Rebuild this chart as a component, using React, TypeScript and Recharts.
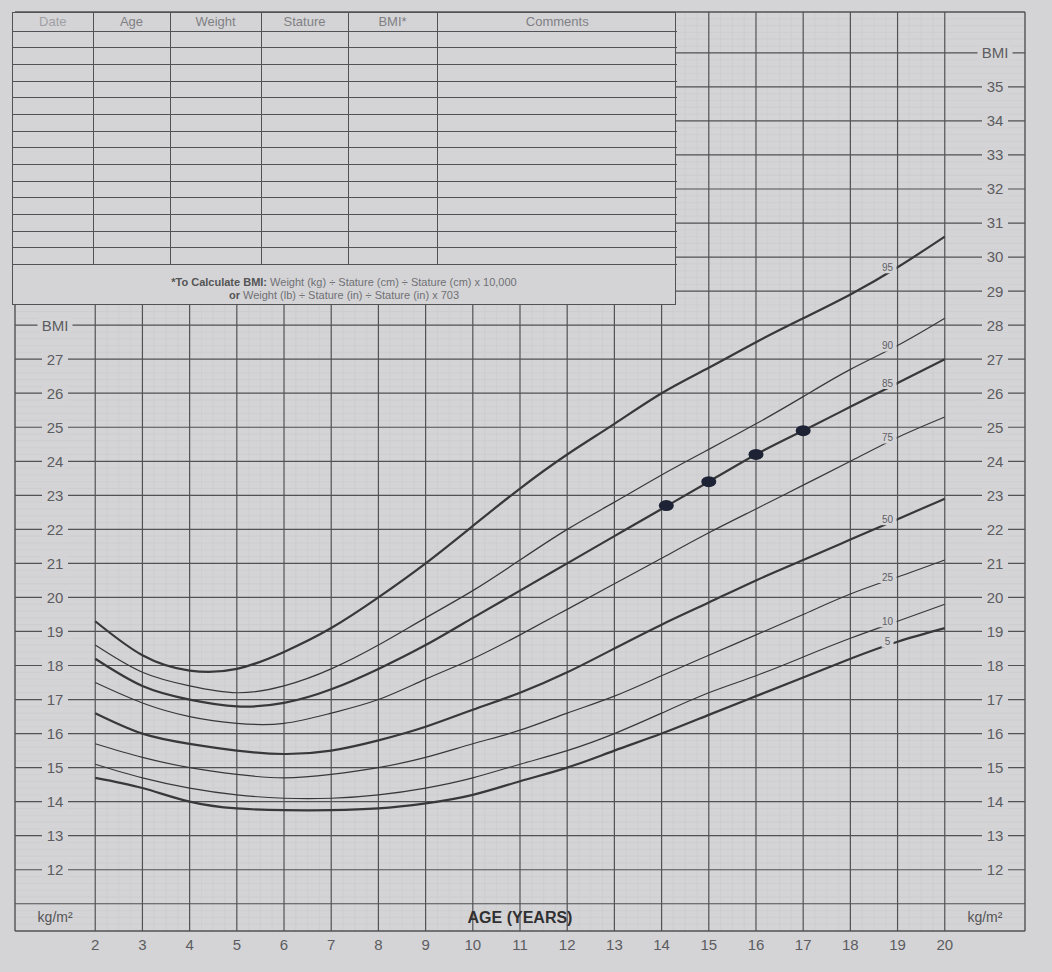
import React from "react"
import {
  ComposedChart,
  Line,
  Scatter,
  XAxis,
  YAxis,
  ReferenceLine,
  ReferenceArea
} from "recharts"

// CDC BMI-for-age percentile curves (boys)
const ages = [2, 3, 4, 5, 6, 7, 8, 9, 10, 11, 12, 13, 14, 15, 16, 17, 18, 19, 20]
const p5 = [14.7, 14.4, 14.0, 13.8, 13.75, 13.75, 13.8, 13.95, 14.2, 14.6, 15.0, 15.5, 16.0, 16.55, 17.1, 17.65, 18.2, 18.7, 19.1]
const p10 = [15.1, 14.7, 14.4, 14.2, 14.1, 14.1, 14.2, 14.4, 14.7, 15.1, 15.5, 16.0, 16.6, 17.2, 17.7, 18.25, 18.8, 19.3, 19.8]
const p25 = [15.7, 15.3, 15.0, 14.8, 14.7, 14.8, 15.0, 15.3, 15.7, 16.1, 16.6, 17.1, 17.7, 18.3, 18.9, 19.5, 20.1, 20.6, 21.1]
const p50 = [16.6, 16.0, 15.7, 15.5, 15.4, 15.5, 15.8, 16.2, 16.7, 17.2, 17.8, 18.5, 19.2, 19.85, 20.5, 21.1, 21.7, 22.3, 22.9]
const p75 = [17.5, 16.9, 16.5, 16.3, 16.3, 16.6, 17.0, 17.6, 18.2, 18.9, 19.65, 20.4, 21.15, 21.9, 22.6, 23.3, 24.0, 24.7, 25.3]
const p85 = [18.2, 17.4, 17.0, 16.8, 16.9, 17.3, 17.9, 18.6, 19.4, 20.2, 21.0, 21.8, 22.6, 23.4, 24.2, 24.9, 25.6, 26.3, 27.0]
const p90 = [18.6, 17.8, 17.4, 17.2, 17.4, 17.9, 18.6, 19.4, 20.2, 21.1, 22.0, 22.8, 23.6, 24.35, 25.1, 25.9, 26.7, 27.4, 28.2]
const p95 = [19.3, 18.3, 17.85, 17.9, 18.4, 19.1, 20.0, 21.0, 22.1, 23.2, 24.2, 25.1, 26.0, 26.75, 27.5, 28.2, 28.9, 29.7, 30.6]

// plotted measurements
const visitAges = [14.1, 15.0, 16.0, 17.0]
const visitBmi = [22.7, 23.4, 24.2, 24.9]

const ageTicks = [2, 3, 4, 5, 6, 7, 8, 9, 10, 11, 12, 13, 14, 15, 16, 17, 18, 19, 20]
const bmiLines = [11, 12, 13, 14, 15, 16, 17, 18, 19, 20, 21, 22, 23, 24, 25, 26, 27, 28, 29, 30, 31, 32, 33, 34, 35, 36]
const leftBmiTicks = [12, 13, 14, 15, 16, 17, 18, 19, 20, 21, 22, 23, 24, 25, 26, 27]
const rightBmiTicks = [12, 13, 14, 15, 16, 17, 18, 19, 20, 21, 22, 23, 24, 25, 26, 27, 28, 29, 30, 31, 32, 33, 34, 35]

const tableHeaders = ["Date", "Age", "Weight", "Stature", "BMI*", "Comments"]
const tableColWidths = [80, 77, 91, 87, 89, 240]
const tableRows = 14

const series = [
  { key: "p95", label: "95", values: p95, thick: true },
  { key: "p90", label: "90", values: p90, thick: false },
  { key: "p85", label: "85", values: p85, thick: true },
  { key: "p75", label: "75", values: p75, thick: false },
  { key: "p50", label: "50", values: p50, thick: true },
  { key: "p25", label: "25", values: p25, thick: false },
  { key: "p10", label: "10", values: p10, thick: false },
  { key: "p5", label: "5", values: p5, thick: true }
]

const data = ages.map((age, i) => {
  const row: Record<string, number> = { age }
  series.forEach((s) => (row[s.key] = s.values[i]))
  return row
})
const visits = visitAges.map((age, i) => ({ age, bmi: visitBmi[i] }))

const PAPER = "#d4d4d7"
const INK = "#38383a"
const GRID = "#525256"
const MINOR = "#cbcbce"
const FONT = "'Liberation Sans', Arial, sans-serif"

const minorBmi: number[] = []
for (let v = 10.4; v < 37; v += 0.2) minorBmi.push(Math.round(v * 10) / 10)
const minorAge: number[] = []
for (let a = 2.25; a < 20; a += 0.25) if (a % 1 !== 0) minorAge.push(a)

const labelIndex = ages.indexOf(19)

function gapLabel(cx: number, cy: number, text: string, size = 15) {
  const w = text.length * size * 0.6 + 8
  return (
    <g>
      <rect x={cx - w / 2} y={cy - 7} width={w} height={14} fill={PAPER} />
      <text x={cx} y={cy} dy="0.36em" textAnchor="middle" fontSize={size} fill="#5c5c60" fontFamily={FONT}>
        {text}
      </text>
    </g>
  )
}

function bmiRowLabel(v: number) {
  const left = leftBmiTicks.includes(v) ? String(v) : v === 28 ? "BMI" : null
  const right = rightBmiTicks.includes(v) ? String(v) : v === 36 ? "BMI" : null
  return (props: any) => {
    const vb = props.viewBox
    return (
      <g>
        {left && gapLabel(vb.x + 40, vb.y, left)}
        {right && gapLabel(vb.x + vb.width - 30, vb.y, right)}
      </g>
    )
  }
}

function pctLabel(text: string) {
  return (props: any) => {
    const { x, y, index } = props
    if (index !== labelIndex) return <g />
    const w = text.length * 6 + 6
    return (
      <g>
        <rect x={x - 10 - w / 2} y={y - 7} width={w} height={13} fill={PAPER} />
        <text x={x - 10} y={y} dy="0.35em" textAnchor="middle" fontSize={10} fill="#606064" fontFamily={FONT}>
          {text}
        </text>
      </g>
    )
  }
}

function RecordTable() {
  const cell = { borderRight: `1px solid ${GRID}`, borderBottom: `1px solid ${GRID}`, padding: 0 }
  return (
    <div
      style={{
        position: "absolute",
        left: 12,
        top: 12,
        width: 664,
        height: 293,
        background: PAPER,
        border: `1px solid ${GRID}`,
        boxSizing: "border-box",
        fontFamily: FONT
      }}
    >
      <table style={{ borderCollapse: "collapse", tableLayout: "fixed", width: 662 }}>
        <colgroup>
          {tableColWidths.map((w, i) => (
            <col key={i} style={{ width: w }} />
          ))}
        </colgroup>
        <tbody>
          <tr style={{ height: 18 }}>
            {tableHeaders.map((h, i) => (
              <td
                key={h}
                style={{
                  ...cell,
                  borderRight: i === tableHeaders.length - 1 ? "none" : cell.borderRight,
                  textAlign: "center",
                  fontSize: 13,
                  color: i === 0 ? "#a0a0a4" : "#808084",
                  lineHeight: "16px"
                }}
              >
                {h}
              </td>
            ))}
          </tr>
          {Array.from({ length: tableRows }).map((_, r) => (
            <tr key={r} style={{ height: 16.7 }}>
              {tableHeaders.map((h, i) => (
                <td
                  key={h}
                  style={{ ...cell, borderRight: i === tableHeaders.length - 1 ? "none" : cell.borderRight }}
                />
              ))}
            </tr>
          ))}
        </tbody>
      </table>
      <div
        style={{
          position: "absolute",
          left: 0,
          right: 0,
          top: 263,
          textAlign: "center",
          fontSize: 11,
          lineHeight: "13px",
          color: "#707074"
        }}
      >
        <div>
          <b style={{ color: "#555" }}>*To Calculate BMI:</b> Weight (kg) ÷ Stature (cm) ÷ Stature (cm) x 10,000
        </div>
        <div>
          <b style={{ color: "#555" }}>or</b> Weight (lb) ÷ Stature (in) ÷ Stature (in) x 703
        </div>
      </div>
    </div>
  )
}

export default function App() {
  return (
    <div style={{ position: "absolute", left: 0, top: 0, width: 1052, height: 972, background: PAPER, overflow: "hidden" }}>
      <ComposedChart width={1052} height={972} data={data} margin={{ top: 12, right: 27, bottom: 11, left: 15 }}>
        <XAxis
          type="number"
          dataKey="age"
          domain={[0.3, 21.7]}
          ticks={ageTicks}
          allowDataOverflow
          axisLine={false}
          tickLine={false}
          height={30}
          tick={{ fontSize: 15, fill: "#5c5c60", fontFamily: FONT }}
        />
        <YAxis type="number" domain={[10.2, 37.2]} allowDataOverflow hide />

        {minorBmi.map((v) => (
          <ReferenceLine key={"mb" + v} y={v} stroke={MINOR} strokeWidth={0.7} />
        ))}
        {minorAge.map((a) => (
          <ReferenceLine key={"ma" + a} x={a} stroke={MINOR} strokeWidth={0.7} />
        ))}
        {ageTicks.map((a) => (
          <ReferenceLine key={"a" + a} x={a} stroke={GRID} strokeWidth={1.2} />
        ))}
        {bmiLines.map((v) => (
          <ReferenceLine key={"b" + v} y={v} stroke={GRID} strokeWidth={1.2} label={bmiRowLabel(v)} />
        ))}

        <ReferenceLine x={0.3} stroke={GRID} strokeWidth={1.4} ifOverflow="visible" />
        <ReferenceLine x={21.7} stroke={GRID} strokeWidth={1.4} ifOverflow="visible" />
        <ReferenceLine y={10.2} stroke={GRID} strokeWidth={1.4} ifOverflow="visible" />
        <ReferenceLine y={37.2} stroke={GRID} strokeWidth={1.4} ifOverflow="visible" />

        <ReferenceArea
          x1={9}
          x2={13}
          y1={10.2}
          y2={11}
          fill="none"
          stroke="none"
          label={{ value: "AGE (YEARS)", position: "center", fontSize: 16, fill: "#303032", fontFamily: FONT, fontWeight: 600 }}
        />
        <ReferenceArea
          x1={0.3}
          x2={2}
          y1={10.2}
          y2={11}
          fill="none"
          stroke="none"
          label={{ value: "kg/m²", position: "center", fontSize: 14, fill: "#555", fontFamily: FONT }}
        />
        <ReferenceArea
          x1={20}
          x2={21.7}
          y1={10.2}
          y2={11}
          fill="none"
          stroke="none"
          label={{ value: "kg/m²", position: "center", fontSize: 14, fill: "#555", fontFamily: FONT }}
        />

        {series.map((s) => (
          <Line
            key={s.key}
            dataKey={s.key}
            type="natural"
            stroke={INK}
            strokeWidth={s.thick ? 2.2 : 1.2}
            dot={false}
            activeDot={false}
            isAnimationActive={false}
            label={pctLabel(s.label)}
          />
        ))}

        <Scatter
          data={visits}
          dataKey="bmi"
          isAnimationActive={false}
          shape={(p: any) => <ellipse cx={p.cx} cy={p.cy} rx={7.5} ry={5.5} fill="#1d2335" />}
        />
      </ComposedChart>
      <RecordTable />
    </div>
  )
}
